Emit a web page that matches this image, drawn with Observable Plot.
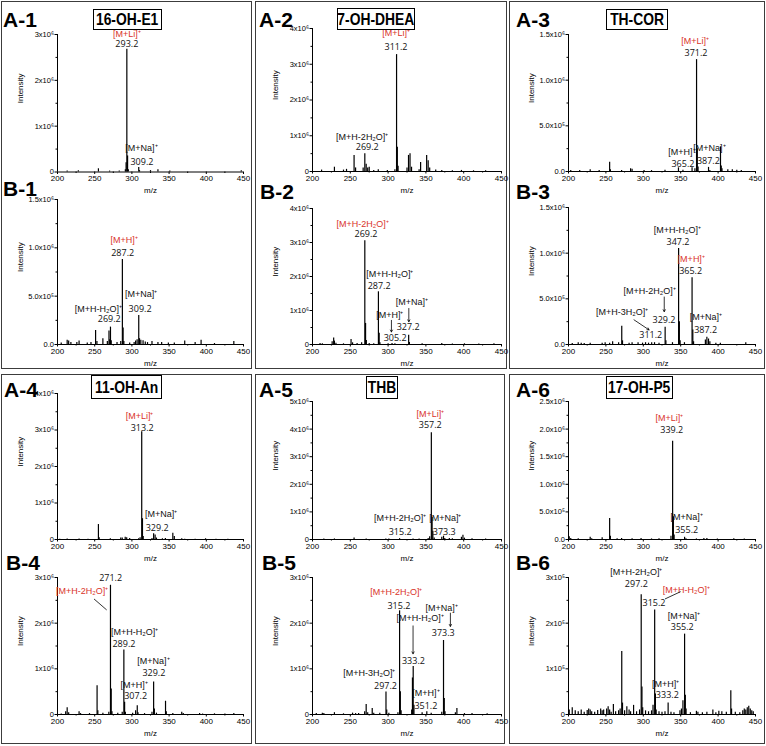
<!DOCTYPE html>
<html><head><meta charset="utf-8">
<script src="https://cdn.jsdelivr.net/npm/d3@7"></script>
<script src="https://cdn.jsdelivr.net/npm/@observablehq/plot@0.6"></script>
<style>
body{margin:0;background:#fff}
#root{position:relative;width:766px;height:746px;overflow:hidden;background:#fff}
.box{position:absolute;border:1.5px solid #3c3c3c;box-sizing:border-box}
.plab{position:absolute;font:bold 21px "Liberation Sans",Arial,sans-serif;line-height:22px;color:#000;white-space:nowrap}
.ttl{position:absolute;border:1.5px solid #000;box-sizing:border-box;font:bold 16.5px "Liberation Sans",Arial,sans-serif;display:flex;align-items:center;justify-content:center;white-space:nowrap;background:#fff;overflow:visible}
.ttl span{display:inline-block;transform:scaleX(0.84);transform-origin:center}
.pl{position:absolute}
</style></head>
<body><div id="root"></div>
<script>
// ---------- data: peaks [m/z, intensity in axis units] ----------
const a1Peaks = [[213,0.02],[228,0.03],[255,0.07],[270,0.02],[283,0.02],[291.2,0.05],[292.2,0.2],[293.2,2.68],[294.2,0.35],[295.2,0.05],[309.2,0.1],[310.2,0.03],[325,0.03],[335,0.05],[351,0.02],[447,0.03]];
const b1Peaks = [[205,0.015],[213,0.045],[215,0.035],[218,0.02],[226,0.02],[229,0.035],[240,0.015],[245,0.02],[251.2,0.145],[253,0.03],[261,0.06],[267,0.03],[269.2,0.14],[270.2,0.05],[271.2,0.18],[272.2,0.04],[280,0.02],[285,0.03],[287.2,0.88],[288.2,0.17],[289.2,0.03],[297,0.015],[303,0.02],[305,0.035],[307,0.05],[309.2,0.30],[310.2,0.06],[312,0.045],[315,0.04],[318,0.025],[321,0.02],[327,0.03],[335,0.02],[340,0.02],[349,0.015],[357,0.015],[371,0.035],[385,0.02],[393,0.045],[411,0.01],[437,0.03]];
const a2Peaks = [[212,0.04],[229,0.12],[241,0.04],[245,0.06],[255,0.45],[257,0.1],[267,0.1],[269.2,0.5],[271,0.2],[273,0.1],[275,0.12],[281,0.03],[287,0.05],[299,0.03],[309,0.05],[311.2,3.27],[312.2,0.68],[313.2,0.15],[325,0.1],[327,0.45],[329,0.5],[331,0.12],[341,0.05],[343,0.25],[351,0.45],[353,0.3],[355,0.1],[363,0.04],[371,0.03],[385,0.02],[397,0.03],[413,0.02],[429,0.02]];
const b2Peaks = [[210,0.03],[213,0.02],[226,0.08],[228,0.19],[229,0.1],[231,0.04],[241,0.02],[251,0.15],[253,0.05],[259,0.03],[265,0.05],[269.2,3.05],[270.2,0.62],[271.2,0.12],[275,0.03],[281,0.02],[287.2,1.55],[288.2,0.33],[289.2,0.05],[300,0.02],[305.2,0.03],[309,0.02],[327.2,0.27],[328.2,0.06],[345,0.02],[371,0.03],[385,0.015],[401,0.02],[420,0.015],[440,0.02]];
const a3Peaks = [[203,0.01],[215,0.01],[229,0.02],[241,0.01],[255,0.1],[256,0.02],[271,0.01],[283,0.03],[285,0.025],[301,0.01],[311,0.01],[329,0.015],[347,0.04],[353,0.015],[365.2,0.04],[369,0.03],[371.2,1.225],[372.2,0.25],[373.2,0.05],[387.2,0.045],[389,0.01],[403.2,0.27],[404.2,0.06],[405.2,0.03],[413,0.02],[419,0.02],[425,0.015],[431,0.01]];
const b3Peaks = [[205,0.01],[213,0.02],[217,0.015],[221,0.01],[229,0.015],[245,0.015],[249,0.02],[255,0.015],[259,0.03],[267,0.02],[271.2,0.2],[272.2,0.04],[281,0.015],[285,0.02],[293,0.02],[299,0.015],[303,0.02],[307,0.015],[311.2,0.02],[315,0.02],[321,0.015],[329.2,0.19],[330.2,0.04],[339,0.02],[347.2,1.05],[348.2,0.25],[349.2,0.04],[355,0.02],[365.2,0.73],[366.2,0.16],[367.2,0.03],[383,0.05],[385,0.08],[387.2,0.06],[389,0.03],[397,0.015],[403,0.015],[437,0.02]];
const a4Peaks = [[203,0.01],[213,0.015],[229,0.015],[241,0.01],[255,0.41],[256,0.05],[271,0.02],[285,0.04],[287,0.04],[291,0.06],[293,0.05],[297,0.03],[309,0.02],[311,0.05],[313.2,2.95],[314.2,0.57],[315.2,0.08],[327,0.03],[329.2,0.16],[331.2,0.12],[333,0.04],[341,0.02],[345,0.03],[355,0.17],[357,0.08],[367,0.02],[371,0.01],[385,0.01],[399,0.02],[413,0.01],[429,0.01]];
const b4Peaks = [[205,0.01],[211,0.06],[213,0.15],[215,0.04],[229,0.06],[231,0.02],[243,0.02],[253.2,0.63],[254.2,0.08],[261,0.03],[269,0.05],[271.2,2.83],[272.2,0.56],[273.2,0.06],[281,0.03],[287,0.05],[289.2,1.41],[290.2,0.27],[291.2,0.05],[301,0.03],[305,0.08],[307.2,0.19],[308.2,0.04],[317,0.02],[327,0.05],[329.2,0.71],[330.2,0.12],[333,0.03],[345.2,0.29],[346.2,0.06],[355,0.02],[367,0.05],[369,0.02],[391,0.02],[395,0.01],[411,0.015],[425,0.01],[437,0.02]];
const a5Peaks = [[215,0.02],[229,0.02],[255,0.05],[271,0.02],[297,0.02],[301,0.02],[315.2,0.03],[333,0.02],[341,0.02],[353,0.04],[355,0.1],[357.2,3.87],[358.2,0.8],[359.2,0.3],[361,0.05],[371,0.08],[373.3,0.12],[375,0.04],[381,0.04],[385,0.03],[397,0.08],[399,0.15],[401,0.05],[411,0.03],[429,0.02]];
const b5Peaks = [[205,0.02],[213,0.03],[215,0.02],[229,0.04],[241,0.015],[253,0.03],[257,0.02],[261,0.02],[269,0.06],[271,0.22],[273,0.04],[279,0.13],[281,0.03],[289,0.03],[297.2,0.49],[298.2,0.1],[301,0.03],[313,0.04],[315.2,2.27],[316.2,0.5],[317.2,0.08],[331.2,0.1],[332.2,0.8],[333.2,1.05],[334.2,0.2],[345,0.04],[351.2,0.06],[357,0.03],[371,0.05],[373.3,1.62],[374.3,0.35],[375.3,0.06],[389,0.04],[391,0.13],[401,0.02],[411,0.02],[431,0.015]];
const a6Peaks = [[201,0.05],[203,0.02],[213,0.015],[229,0.04],[231,0.015],[245,0.03],[255,0.38],[256,0.06],[265,0.015],[271,0.02],[285,0.015],[297,0.02],[311,0.01],[321,0.015],[337,0.06],[339.2,1.78],[340.2,0.41],[341.2,0.08],[355.2,0.04],[357,0.015],[371,0.01],[381,0.02],[385,0.02],[399,0.01],[421,0.015],[435,0.01]];
const b6Peaks = [[201,0.1],[205,0.15],[209,0.08],[213,0.06],[217,0.1],[221,0.05],[225,0.09],[227,0.12],[229,0.1],[231,0.06],[235,0.05],[239,0.09],[243,0.12],[245,0.08],[247,0.1],[251,0.12],[253,0.17],[255,0.1],[257,0.05],[260,0.22],[263,0.06],[267,0.08],[269,0.12],[271.2,1.38],[272.2,0.25],[275,0.08],[278,0.17],[281,0.1],[283,0.06],[287,0.2],[291,0.06],[295,0.1],[297.2,2.62],[298.2,0.6],[299.2,0.15],[303,0.08],[307,0.06],[311,0.08],[313,0.2],[315.2,2.29],[316.2,0.45],[317.2,0.1],[321,0.06],[325,0.05],[329,0.06],[333.2,0.25],[337,0.05],[341,0.04],[349,0.08],[351,0.12],[353,0.3],[355.2,1.76],[356.2,0.42],[357.2,0.12],[363,0.04],[371,0.07],[373,0.05],[379,0.04],[385,0.05],[393,0.1],[397,0.04],[401,0.07],[405,0.06],[411,0.05],[417,0.52],[418,0.12],[423,0.05],[429,0.04],[433,0.08],[435,0.12],[437,0.1],[439,0.15],[441,0.18],[443,0.12],[445,0.08],[447,0.06]];

// ---------- annotations [text, m/z, intensity, highlighted] ----------
const a1Ann = [["[M+Li]⁺",293.2,3.0,1],["293.2",293.2,2.79,0],["[M+Na]⁺",312.8,0.52,0],["309.2",313.5,0.22,0]];
const b1Ann = [["[M+H]⁺",289.6,1.076,1],["287.2",287.6,0.95,0],["[M+H-H₂O]⁺",254.8,0.37,0],["269.2",269.5,0.26,0],["[M+Na]⁺",312.3,0.52,0],["309.2",311,0.37,0]];
const a2Ann = [["[M+Li]⁺",310.5,3.86,1],["311.2",310.5,3.47,0],["[M+H-2H₂O]⁺",265.8,0.95,0],["269.2",272.4,0.67,0]];
const b2Ann = [["[M+H-2H₂O]⁺",266.4,3.53,1],["269.2",270.8,3.24,0],["[M+H-H₂O]⁺",302.2,2.07,0],["287.2",288.1,1.72,0],["[M+Na]⁺",331.4,1.25,0],["327.2",326.5,0.51,0],["[M+H]⁺",302.2,0.86,0],["305.2",309.3,0.18,0]];
const a3Ann = [["[M+Li]⁺",369.2,1.43,1],["371.2",370.5,1.30,0],["[M+H]⁺",351.6,0.21,0],["365.2",353,0.077,0],["[M+Na]⁺",388.4,0.26,0],["387.2",387,0.113,0]];
const b3Ann = [["[M+H-H₂O]⁺",345.5,1.25,0],["347.2",346.4,1.12,0],["[M+H]⁺",364.1,0.93,1],["365.2",363.3,0.80,0],["[M+H-2H₂O]⁺",308.5,0.59,0],["329.2",327.7,0.27,0],["[M+H-3H₂O]⁺",271.6,0.36,0],["311.2",309.9,0.10,0],["[M+Na]⁺",383.7,0.30,0],["387.2",383.3,0.157,0]];
const a4Ann = [["[M+Li]⁺",310.3,3.39,1],["313.2",313.8,3.04,0],["[M+Na]⁺",339.3,0.69,0],["329.2",334,0.31,0]];
const b4Ann = [["271.2",271.4,2.98,0],["[M+H-2H₂O]⁺",233,2.71,1],["[M+H-H₂O]⁺",303.6,1.81,0],["289.2",289.3,1.54,0],["[M+Na]⁺",329,1.16,0],["329.2",329.5,0.90,0],["[M+H]⁺",303.1,0.65,0],["307.2",305,0.41,0]];
const a5Ann = [["[M+Li]⁺",355.8,4.54,1],["357.2",355.8,4.13,0],["[M+H-2H₂O]⁺",316,0.76,0],["315.2",316,0.27,0],["[M+Na]⁺",375.7,0.76,0],["373.3",374.3,0.27,0]];
const b5Ann = [["[M+H-2H₂O]⁺",310.8,2.67,1],["315.2",314.3,2.38,0],["[M+H-H₂O]⁺",342.3,2.11,0],["333.2",333.5,1.16,0],["[M+Na]⁺",370.8,2.34,0],["373.3",373,1.78,0],["[M+H-3H₂O]⁺",275.2,0.91,0],["297.2",296.5,0.63,0],["[M+H]⁺",350,0.47,0],["351.2",350,0.18,0]];
const a6Ann = [["[M+Li]⁺",334.8,2.20,1],["339.2",338,1.98,0],["[M+Na]⁺",358,0.41,0],["355.2",358,0.17,0]];
const b6Ann = [["[M+H-2H₂O]⁺",290.7,3.12,0],["297.2",290.7,2.85,0],["[M+H-H₂O]⁺",357.5,2.73,1],["315.2",314.3,2.44,0],["[M+Na]⁺",354.4,2.16,0],["355.2",352.1,1.91,0],["[M+H]⁺",329.9,0.67,0],["333.2",332.1,0.42,0]];

// pointers [m/z1, y1, m/z2, y2]
const b2Arrows = [[304.4,0.71,304.4,0.37],[327.4,1.06,327.4,0.67]];
const b3Arrows = [[328,0.52,328,0.36],[287.6,0.27,307.7,0.16]];
const b4Links = [[249.1,2.53,266.1,2.29]];
const b5Arrows = [[333,1.94,333,1.33],[382.4,2.22,382.4,1.93]];
const b6Links = [[349.9,2.69,329,2.53]];

// ---------- tick labels ----------
const xMajor = [200,250,300,350,400,450];
const xMinor = [225,275,325,375,425];
const t3 = [0,1,2,3], t3Lab = ["0","1x10⁶","2x10⁶","3x10⁶"], t3Min = [0.5,1.5,2.5];
const t4 = [0,1,2,3,4], t4Lab = ["0","1x10⁶","2x10⁶","3x10⁶","4x10⁶"], t4Min = [0.5,1.5,2.5,3.5];
const t5 = [0,1,2,3,4,5], t5Lab = ["0","1x10⁶","2x10⁶","3x10⁶","4x10⁶","5x10⁶"], t5Min = [0.5,1.5,2.5,3.5,4.5];
const d15 = [0,0.5,1,1.5], d15Lab = ["0.0","5.0x10⁵","1.0x10⁶","1.5x10⁶"], d15Min = [0.25,0.75,1.25];
const d25 = [0,0.5,1,1.5,2,2.5], d25Lab = ["0.0","5.0x10⁵","1.0x10⁶","1.5x10⁶","2.0x10⁶","2.5x10⁶"], d25Min = [0.25,0.75,1.25,1.75,2.25];
const e3 = [0,1,2,3], e3Lab = ["0","1x10⁵","2x10⁵","3x10⁵"], e3Min = [0.5,1.5,2.5];

const panelNames = ["A-1","B-1","A-2","B-2","A-3","B-3","A-4","B-4","A-5","B-5","A-6","B-6"];
const compounds = ["16-OH-E1","7-OH-DHEA","TH-COR","11-OH-An","THB","17-OH-P5"];

// ---------- layout ----------
const RED = "#d9342b";
const panels = [
  {peaks:a1Peaks, ann:a1Ann, ticks:t3, lab:t3Lab, minor:t3Min, x0:57, x1:243, yTop:33.5, yBot:171},
  {peaks:b1Peaks, ann:b1Ann, ticks:d15, lab:d15Lab, minor:d15Min, x0:57, x1:243, yTop:199, yBot:344},
  {peaks:a2Peaks, ann:a2Ann, ticks:t4, lab:t4Lab, minor:t4Min, x0:312, x1:501, yTop:28, yBot:171},
  {peaks:b2Peaks, ann:b2Ann, ticks:t4, lab:t4Lab, minor:t4Min, x0:312, x1:501, yTop:208, yBot:344, arrows:b2Arrows},
  {peaks:a3Peaks, ann:a3Ann, ticks:d15, lab:d15Lab, minor:d15Min, x0:568, x1:755, yTop:34, yBot:171},
  {peaks:b3Peaks, ann:b3Ann, ticks:d15, lab:d15Lab, minor:d15Min, x0:568, x1:755, yTop:207, yBot:344, arrows:b3Arrows},
  {peaks:a4Peaks, ann:a4Ann, ticks:t4, lab:t4Lab, minor:t4Min, x0:57, x1:243, yTop:393, yBot:539},
  {peaks:b4Peaks, ann:b4Ann, ticks:t3, lab:t3Lab, minor:t3Min, x0:57, x1:243, yTop:577, yBot:714, links:b4Links},
  {peaks:a5Peaks, ann:a5Ann, ticks:t5, lab:t5Lab, minor:t5Min, x0:312, x1:501, yTop:401, yBot:539},
  {peaks:b5Peaks, ann:b5Ann, ticks:t3, lab:t3Lab, minor:t3Min, x0:312, x1:501, yTop:577, yBot:714, arrows:b5Arrows},
  {peaks:a6Peaks, ann:a6Ann, ticks:d25, lab:d25Lab, minor:d25Min, x0:568, x1:755, yTop:401, yBot:539},
  {peaks:b6Peaks, ann:b6Ann, ticks:e3, lab:e3Lab, minor:e3Min, x0:568, x1:755, yTop:577, yBot:714, links:b6Links}
];
const boxes = [[1,1,251,368],[255,1,252,368],[509,1,256,368],[1,374,251,370],[255,374,250,370],[509,374,256,370]];
const titleBoxes = [[93,9,69,21],[337,8,78,22],[606,9,62,21],[91,375,71,24],[366,376,32,23],[606,376,67,23]];
const letterPos = [[3,9],[3,178],[259,9],[260,181],[516,9],[516,181],[4,379],[6,552],[259,379],[262,552],[516,379],[516,552]];

const root = document.getElementById("root");
boxes.forEach(([l,t,w,h]) => {
  const d = document.createElement("div"); d.className = "box";
  Object.assign(d.style,{left:l+"px",top:t+"px",width:w+"px",height:h+"px"});
  root.appendChild(d);
});

const FONT = "'Liberation Sans', Arial, sans-serif";
const NUMFONT = "'Open Sans', 'Liberation Sans', sans-serif";
const isNum = s => /^[0-9.]+$/.test(s);

panels.forEach((p, k) => {
  const mL = 50, mR = 14, mT = 30, mB = 30;
  const W = (p.x1 - p.x0) + mL + mR;
  const H = (p.yBot - p.yTop) + mT + mB;
  const ymax = p.ticks[p.ticks.length - 1];
  const peaks = p.peaks.map(([mz, v]) => ({mz, v}));
  const ann = p.ann.map(([text, mz, v, hl]) => ({text, mz, v, hl}));
  const textMark = (subset, font, size, color) => Plot.text(subset, {x:"mz", y:"v", text:"text", fill:color, fontSize:size, fontFamily:font});
  const marks = [
    Plot.ruleX(peaks, {x:"mz", y1:0, y2:"v", stroke:"#000", strokeWidth:1.2}),
    Plot.ruleY([0], {stroke:"#000", strokeWidth:1}),
    Plot.ruleX([200], {y1:0, y2:ymax, stroke:"#000", strokeWidth:1}),
    Plot.axisX({ticks:xMajor, tickSize:2.5, tickPadding:1, fontSize:8, label:null, tickFormat:d => String(d), fontFamily:FONT}),
    Plot.axisX({ticks:xMinor, tickSize:1.5, label:null, tickFormat:() => ""}),
    Plot.axisY({ticks:p.ticks, tickSize:2.5, tickPadding:1, fontSize:7.5, label:null, tickFormat:d => p.lab[p.ticks.indexOf(d)], fontFamily:FONT}),
    Plot.axisY({ticks:p.minor, tickSize:1.5, label:null, tickFormat:() => ""}),
    Plot.text(["Intensity"], {frameAnchor:"left", dx:-37, rotate:-90, fontSize:8, fontFamily:FONT}),
    Plot.text(["m/z"], {frameAnchor:"bottom", dy:21, fontSize:8, fontFamily:FONT}),
    textMark(ann.filter(d => !isNum(d.text) && !d.hl), FONT, 9, "#111"),
    textMark(ann.filter(d => !isNum(d.text) && d.hl), FONT, 9, RED),
    textMark(ann.filter(d => isNum(d.text)), NUMFONT, 9, "#111")
  ];
  if (p.arrows) marks.push(Plot.arrow(p.arrows.map(([a,b,c,e]) => ({a,b,c,e})), {x1:"a", y1:"b", x2:"c", y2:"e", stroke:"#000", strokeWidth:0.8, headLength:4}));
  if (p.links) marks.push(Plot.link(p.links.map(([a,b,c,e]) => ({a,b,c,e})), {x1:"a", y1:"b", x2:"c", y2:"e", stroke:"#000", strokeWidth:0.8}));
  const svg = Plot.plot({
    width:W, height:H, marginLeft:mL, marginRight:mR, marginTop:mT, marginBottom:mB,
    style:{background:"transparent", overflow:"visible", fontFamily:FONT},
    x:{domain:[200,450]}, y:{domain:[0,ymax]},
    marks
  });
  svg.classList.add("pl");
  svg.style.position = "absolute";
  svg.style.left = (p.x0 - mL) + "px";
  svg.style.top = (p.yTop - mT) + "px";
  svg.style.maxWidth = "none";
  root.appendChild(svg);
});

letterPos.forEach(([l,t], i) => {
  const d = document.createElement("div"); d.className = "plab";
  d.textContent = panelNames[i];
  Object.assign(d.style,{left:l+"px",top:t+"px"});
  root.appendChild(d);
});
titleBoxes.forEach(([l,t,w,h], i) => {
  const d = document.createElement("div"); d.className = "ttl";
  const s = document.createElement("span"); s.textContent = compounds[i];
  d.appendChild(s);
  Object.assign(d.style,{left:l+"px",top:t+"px",width:w+"px",height:h+"px"});
  root.appendChild(d);
});
</script>
</body></html>
